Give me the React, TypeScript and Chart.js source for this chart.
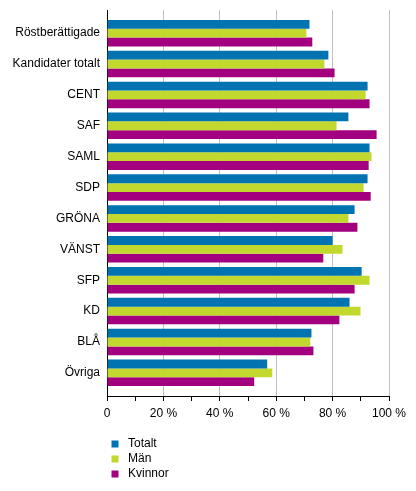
import React, { useRef, useEffect } from 'react';
import { Chart, registerables } from 'chart.js';
Chart.register(...registerables);

const categories = [
  'Röstberättigade',
  'Kandidater totalt',
  'CENT',
  'SAF',
  'SAML',
  'SDP',
  'GRÖNA',
  'VÄNST',
  'SFP',
  'KD',
  'BLÅ',
  'Övriga',
];

const totalt = [71.8, 78.5, 92.4, 85.6, 93.1, 92.4, 87.8, 80.0, 90.3, 86.0, 72.5, 56.8];
const man = [70.7, 77.1, 91.7, 81.4, 93.8, 91.0, 85.6, 83.5, 93.1, 89.9, 72.1, 58.6];
const kvinnor = [72.8, 80.7, 93.1, 95.6, 92.8, 93.5, 88.8, 76.7, 87.8, 82.4, 73.2, 52.2];

const seriesNames = ['Totalt', 'Män', 'Kvinnor'];
const seriesColors = ['#0073b0', '#c2d82f', '#a3007f'];

const FONT = '"Liberation Sans", Arial, sans-serif';

// legenden ritas under diagrammet, en rad per serie
const legendPlugin = {
  id: 'bottomLegend',
  afterDraw(chart: Chart) {
    const ctx = chart.ctx;
    const left = chart.chartArea.left;
    ctx.save();
    ctx.font = '12px ' + FONT;
    ctx.textBaseline = 'middle';
    ctx.textAlign = 'left';
    chart.data.datasets.forEach((ds, i) => {
      const y = 444 + i * 15;
      ctx.fillStyle = ds.backgroundColor as string;
      ctx.fillRect(left + 4.5, y - 3.5, 7, 7);
      ctx.fillStyle = '#000';
      ctx.fillText(ds.label as string, left + 21, y);
    });
    ctx.restore();
  },
};

const App: React.FC = () => {
  const canvasRef = useRef<HTMLCanvasElement>(null);
  const chartRef = useRef<Chart | null>(null);

  useEffect(() => {
    if (!canvasRef.current) return;
    if (chartRef.current) chartRef.current.destroy();
    const ctx = canvasRef.current.getContext('2d');
    if (!ctx) return;

    Chart.defaults.font.family = FONT;
    Chart.defaults.font.size = 12;
    Chart.defaults.color = '#000';

    const values = [totalt, man, kvinnor];

    chartRef.current = new Chart(ctx, {
      type: 'bar',
      data: {
        datasets: values.map((arr, i) => ({
          label: seriesNames[i],
          data: arr.map((v, j) => ({ x: v, y: j })),
          backgroundColor: seriesColors[i],
          borderWidth: 0,
          categoryPercentage: 0.86,
          barPercentage: 1,
        })),
      },
      options: {
        indexAxis: 'y',
        animation: false,
        responsive: true,
        maintainAspectRatio: false,
        layout: { padding: { top: 10, left: 0, right: 27, bottom: 70 } },
        plugins: { legend: { display: false }, tooltip: { enabled: false } },
        scales: {
          x: {
            type: 'linear',
            position: 'bottom',
            min: 0,
            max: 100,
            ticks: {
              stepSize: 10,
              autoSkip: false,
              maxRotation: 0,
              padding: 5,
              color: '#000',
              callback: (v: any) => (v % 20 === 0 ? (v === 0 ? '0' : v + ' %') : ''),
            },
            grid: {
              color: (c: any) =>
                c.tick && c.tick.value % 20 === 0 && c.tick.value !== 0 ? '#c0c0c0' : 'rgba(0,0,0,0)',
              tickColor: '#000',
              tickLength: 5,
              lineWidth: 1,
            },
            border: { display: true, color: '#000' },
            afterFit: (scale: any) => {
              scale.height = 25;
            },
          },
          y: {
            type: 'linear',
            reverse: true,
            offset: false,
            bounds: 'data',
            min: -0.75,
            max: 11.75,
            afterBuildTicks: (scale: any) => {
              scale.ticks = categories.map((_, i) => ({ value: i }));
              scale.min = -0.75;
              scale.max = 11.75;
            },
            ticks: {
              padding: 7,
              color: '#000',
              autoSkip: false,
              callback: (v: any) => categories[v] ?? '',
            },
            grid: { display: false, drawTicks: false, offset: false },
            border: { display: true, color: '#000' },
            afterFit: (scale: any) => {
              scale.width = 107;
              scale.paddingTop = 0;
              scale.paddingBottom = 0;
            },
          },
        },
      },
      plugins: [legendPlugin],
    });

    return () => {
      chartRef.current?.destroy();
      chartRef.current = null;
    };
  }, []);

  return (
    <div style={{ position: 'fixed', left: 0, top: 0, width: 416, height: 491, background: '#fff' }}>
      <canvas ref={canvasRef}></canvas>
    </div>
  );
};

export default App;
